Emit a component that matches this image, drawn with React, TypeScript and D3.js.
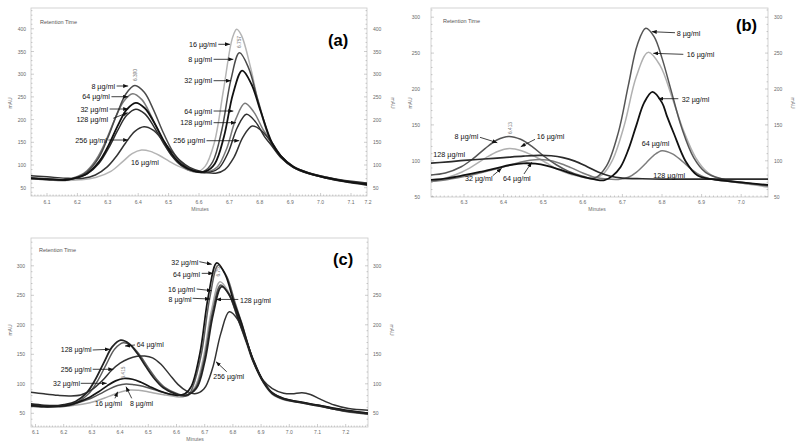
import React from "react";
import * as d3 from "d3";

type Pt = [number, number];

// ---------------- Panel (a) data: [minutes, mAU] ----------------
const a8: Pt[] = [[6.03,72],[6.10,69],[6.16,67.5],[6.19,70.5],[6.23,84],[6.27,116],[6.30,160],[6.33,212],[6.36,257],[6.389,275],[6.42,260],[6.45,222],[6.48,175],[6.51,134],[6.54,106],[6.58,89],[6.615,86],[6.645,107],[6.675,177],[6.705,288],[6.733,347],[6.763,314],[6.793,245],[6.84,146],[6.87,117],[6.91,95],[6.96,81],[7.02,71],[7.08,64],[7.16,58]];
const a16: Pt[] = [[6.03,70],[6.10,67.5],[6.16,66],[6.21,67.5],[6.26,72.5],[6.31,86],[6.35,108],[6.38,125],[6.411,133],[6.44,130],[6.47,121],[6.50,109],[6.53,98],[6.56,90],[6.59,84],[6.62,97],[6.65,148],[6.68,263],[6.71,380],[6.724,399],[6.74,385],[6.77,314],[6.80,225],[6.84,143],[6.87,116],[6.91,95],[6.96,82],[7.02,72],[7.08,65],[7.16,60]];
const a32: Pt[] = [[6.03,71],[6.10,68.5],[6.16,67],[6.192,71],[6.232,81.5],[6.272,108],[6.302,142.5],[6.332,185.5],[6.362,222],[6.392,237],[6.422,225],[6.452,194],[6.482,156],[6.512,123],[6.542,101],[6.582,87],[6.622,86],[6.652,103],[6.682,162],[6.712,257],[6.742,308],[6.772,279],[6.802,220],[6.84,149],[6.87,119],[6.91,96],[6.96,82],[7.02,72],[7.08,64],[7.16,57]];
const a64: Pt[] = [[6.03,70],[6.10,67.5],[6.16,66],[6.182,70.5],[6.222,82],[6.262,112.5],[6.292,151],[6.322,199],[6.352,240],[6.382,257],[6.412,244],[6.442,209],[6.472,166],[6.502,129],[6.532,104],[6.572,87],[6.631,85],[6.661,96],[6.691,136],[6.721,201],[6.751,236],[6.781,216],[6.811,178],[6.84,150],[6.87,120],[6.91,97],[6.96,83],[7.02,73],[7.08,65],[7.16,58]];
const a128: Pt[] = [[6.03,72],[6.10,69.5],[6.16,67.5],[6.192,70.5],[6.232,80.5],[6.272,104.5],[6.302,136.5],[6.332,175.5],[6.362,209.5],[6.392,223],[6.422,212.5],[6.452,184],[6.482,149.5],[6.512,119],[6.542,99],[6.582,86.5],[6.636,84],[6.666,93.5],[6.696,127.6],[6.726,182.6],[6.756,212],[6.786,195],[6.816,162],[6.84,142],[6.87,116],[6.91,95],[6.96,81],[7.02,71],[7.08,63],[7.16,55]];
const a256: Pt[] = [[6.03,77],[6.10,74],[6.16,71],[6.219,71],[6.259,78],[6.299,96.5],[6.329,120],[6.359,149],[6.389,174],[6.419,184],[6.449,176.6],[6.479,156],[6.509,131],[6.539,109],[6.569,94.7],[6.609,85.4],[6.655,82],[6.685,90],[6.715,117],[6.745,162],[6.775,186],[6.805,176],[6.84,148],[6.87,120],[6.91,97],[6.96,83],[7.02,73],[7.08,66],[7.16,60]];

// ---------------- Panel (b) data ----------------
const b8: Pt[] = [[6.21,80],[6.253,83],[6.293,91.7],[6.323,103],[6.353,117],[6.383,129],[6.413,134],[6.443,130],[6.473,119.5],[6.503,106],[6.533,94.5],[6.563,85.6],[6.60,78.5],[6.63,76],[6.66,93],[6.69,140],[6.715,205],[6.738,262],[6.759,284.5],[6.78,273],[6.80,243],[6.82,204],[6.85,145.5],[6.88,104.5],[6.91,84],[6.95,75],[7.00,70],[7.075,65]];
const b16: Pt[] = [[6.21,70],[6.255,76],[6.295,84.4],[6.325,93.5],[6.355,104],[6.385,113],[6.415,117],[6.445,114],[6.475,107],[6.505,98],[6.535,88.5],[6.565,82],[6.605,76.5],[6.625,74.5],[6.65,81],[6.675,101],[6.705,150],[6.735,217],[6.765,251],[6.795,233],[6.825,189],[6.855,141],[6.885,104.5],[6.915,84],[6.95,74],[7.00,69],[7.075,63]];
const b32: Pt[] = [[6.21,73],[6.26,76],[6.30,80],[6.34,84.5],[6.38,89.5],[6.42,94.5],[6.45,96.5],[6.48,96],[6.51,93],[6.54,88],[6.57,82.5],[6.60,77.5],[6.63,74],[6.655,73],[6.675,79],[6.695,91],[6.715,115.5],[6.735,149],[6.755,181],[6.776,196],[6.80,181],[6.812,163],[6.83,138],[6.86,99],[6.89,79.4],[6.93,74],[7.00,70],[7.075,66]];
const b64: Pt[] = [[6.21,71],[6.26,74],[6.30,78],[6.34,83],[6.38,88.5],[6.42,94.5],[6.45,99],[6.48,101.5],[6.51,101],[6.54,97],[6.57,90.5],[6.60,83],[6.63,77],[6.66,74.5],[6.69,74],[6.715,77],[6.735,84],[6.76,97],[6.78,108],[6.80,114],[6.825,110],[6.85,100],[6.875,88],[6.90,79],[6.93,74],[6.97,71],[7.02,68],[7.075,64.5]];
const b128: Pt[] = [[6.21,96.5],[6.26,98.5],[6.30,100.5],[6.35,102.5],[6.40,104.5],[6.45,106.5],[6.49,107.5],[6.52,107],[6.55,104.5],[6.58,99.5],[6.61,92],[6.64,84],[6.67,78.5],[6.70,76],[6.75,75],[6.80,74.5],[6.90,74.5],[7.00,74.5],[7.075,74.5]];

// ---------------- Panel (c) data ----------------
const c8: Pt[] = [[6.08,62],[6.13,60.5],[6.18,61],[6.22,63],[6.261,69.5],[6.301,76.4],[6.331,83.4],[6.361,91],[6.391,97],[6.421,99.7],[6.451,98.4],[6.481,96],[6.511,91.6],[6.541,87],[6.571,83],[6.611,80.5],[6.637,81],[6.667,92.5],[6.697,139],[6.727,220.5],[6.757,267.5],[6.787,250.5],[6.817,211],[6.85,168],[6.87,140],[6.91,101],[6.94,83],[6.98,74],[7.03,69.5],[7.10,63],[7.20,53],[7.29,48]];
const c16: Pt[] = [[6.08,62],[6.13,60.5],[6.18,61],[6.22,62.5],[6.275,66],[6.315,71],[6.345,76],[6.375,81.5],[6.405,86.5],[6.435,89.5],[6.465,89],[6.495,87],[6.525,84],[6.555,81.5],[6.59,79],[6.625,78],[6.664,93.5],[6.694,141],[6.724,224.5],[6.754,273],[6.784,256],[6.814,215.5],[6.85,166],[6.87,139],[6.91,100],[6.94,82],[6.98,73],[7.03,68.5],[7.10,62.5],[7.20,53.5],[7.29,49]];
const c32: Pt[] = [[6.08,63],[6.13,61.5],[6.18,62],[6.22,64],[6.254,69.4],[6.294,77.8],[6.324,86.5],[6.354,96.5],[6.384,105],[6.414,109],[6.444,107.7],[6.474,102.6],[6.504,95.6],[6.534,89],[6.564,84],[6.604,80.5],[6.63,83],[6.653,96],[6.683,151.5],[6.713,249],[6.743,305],[6.773,285],[6.803,239],[6.83,203],[6.87,142],[6.91,102],[6.94,84],[6.98,75],[7.03,70],[7.10,64],[7.20,55],[7.29,50]];
const c64: Pt[] = [[6.08,64],[6.13,62],[6.18,62.5],[6.211,64.4],[6.251,69.8],[6.291,84.3],[6.321,105.5],[6.351,133],[6.381,159],[6.411,169.7],[6.441,164],[6.471,148],[6.501,126.6],[6.531,107],[6.561,93],[6.601,83.5],[6.64,80],[6.658,95],[6.688,150],[6.718,245.5],[6.748,301],[6.778,282],[6.808,237],[6.83,205],[6.87,143],[6.91,103],[6.94,85],[6.98,75],[7.03,70],[7.10,64],[7.20,55],[7.29,50]];
const c128: Pt[] = [[6.08,66],[6.13,63.5],[6.18,63],[6.202,64.5],[6.242,70],[6.282,85],[6.312,107],[6.342,135.5],[6.372,162.6],[6.402,174],[6.432,168],[6.462,150.8],[6.492,128.7],[6.522,108.5],[6.552,93.7],[6.592,83.7],[6.63,80],[6.67,92],[6.70,137.5],[6.73,218],[6.76,264.6],[6.79,248.5],[6.82,210],[6.85,170],[6.87,141],[6.91,102],[6.94,84],[6.98,74],[7.03,69],[7.10,63],[7.20,54],[7.29,49]];
const c256: Pt[] = [[6.08,86],[6.13,83],[6.18,80.5],[6.22,79.5],[6.26,81],[6.30,90],[6.34,107],[6.37,123],[6.40,135],[6.43,142.5],[6.46,146.5],[6.487,147],[6.515,144],[6.545,133],[6.575,116],[6.605,99],[6.635,88],[6.665,83],[6.697,91],[6.727,125],[6.757,185],[6.787,222],[6.817,209],[6.847,173],[6.877,136],[6.907,106],[6.94,92],[6.98,84],[7.01,83],[7.045,85],[7.075,82],[7.11,74],[7.16,64],[7.21,58],[7.29,55]];

// ---------------- Axis ticks ----------------
const xTicksA = [6.1, 6.2, 6.3, 6.4, 6.5, 6.6, 6.7, 6.8, 6.9, 7.0, 7.1, 7.2];
const yTicksA = [50, 100, 150, 200, 250, 300, 350, 400];
const xTicksB = [6.3, 6.4, 6.5, 6.6, 6.7, 6.8, 6.9, 7.0];
const yTicksB = [50, 100, 150, 200, 250, 300];
const xTicksC = [6.1, 6.2, 6.3, 6.4, 6.5, 6.6, 6.7, 6.8, 6.9, 7.0, 7.1, 7.2];
const yTicksC = [50, 100, 150, 200, 250, 300];

// ---------------- Annotations (data units) ----------------
type Ann = { t: string; x: number; y: number; anchor: string; arrow?: number[] };
const annA: Ann[] = [
  { t: "8 µg/ml", x: 6.324, y: 274, anchor: "end", arrow: [6.329, 274, 6.367, 274] },
  { t: "64 µg/ml", x: 6.307, y: 250.4, anchor: "end", arrow: [6.312, 250.4, 6.367, 250.4] },
  { t: "32 µg/ml", x: 6.301, y: 223.3, anchor: "end", arrow: [6.306, 223.3, 6.367, 223.3] },
  { t: "128 µg/ml", x: 6.301, y: 200.7, anchor: "end", arrow: [6.318, 202.9, 6.3655, 215.2] },
  { t: "256 µg/ml", x: 6.297, y: 155, anchor: "end", arrow: [6.302, 155, 6.367, 155] },
  { t: "16 µg/ml", x: 6.422, y: 106, anchor: "middle" },
  { t: "16 µg/ml", x: 6.658, y: 365.9, anchor: "end", arrow: [6.6635, 365.9, 6.702, 365.9] },
  { t: "8 µg/ml", x: 6.643, y: 332.8, anchor: "end", arrow: [6.648, 332.8, 6.713, 332.8] },
  { t: "32 µg/ml", x: 6.643, y: 285.7, anchor: "end", arrow: [6.648, 285.7, 6.705, 285.7] },
  { t: "64 µg/ml", x: 6.643, y: 218.9, anchor: "end", arrow: [6.648, 218.9, 6.713, 218.9] },
  { t: "128 µg/ml", x: 6.643, y: 193.2, anchor: "end", arrow: [6.648, 193.2, 6.7217, 193.2] },
  { t: "256 µg/ml", x: 6.6197, y: 153.5, anchor: "end", arrow: [6.6247, 153.5, 6.7326, 153.5] },
];
const annB: Ann[] = [
  { t: "8 µg/ml", x: 6.3361, y: 133.6, anchor: "end", arrow: [6.3404, 132.7, 6.3841, 125.2] },
  { t: "16 µg/ml", x: 6.4836, y: 133.6, anchor: "start", arrow: [6.4793, 129.9, 6.4432, 119.6] },
  { t: "128 µg/ml", x: 6.2225, y: 108.1, anchor: "start" },
  { t: "32 µg/ml", x: 6.3025, y: 74.7, anchor: "start", arrow: [6.3725, 79.2, 6.3952, 89.6] },
  { t: "64 µg/ml", x: 6.3985, y: 74.7, anchor: "start", arrow: [6.4515, 81.6, 6.471, 97.9] },
  { t: "8 µg/ml", x: 6.8371, y: 277.6, anchor: "start", arrow: [6.8328, 278.4, 6.774, 279.8] },
  { t: "16 µg/ml", x: 6.8624, y: 247.4, anchor: "start", arrow: [6.8538, 248.3, 6.778, 249.7] },
  { t: "32 µg/ml", x: 6.8497, y: 185.7, anchor: "start", arrow: [6.8412, 186.5, 6.7907, 186.5] },
  { t: "64 µg/ml", x: 6.7487, y: 123.4, anchor: "start" },
  { t: "128 µg/ml", x: 6.778, y: 80.2, anchor: "start" },
];
const annC: Ann[] = [
  { t: "32 µg/ml", x: 6.6773, y: 305.3, anchor: "end", arrow: [6.6809, 307, 6.7248, 302.5] },
  { t: "64 µg/ml", x: 6.6833, y: 286.1, anchor: "end", arrow: [6.6894, 287.2, 6.7305, 287.2] },
  { t: "16 µg/ml", x: 6.6656, y: 260.2, anchor: "end", arrow: [6.6716, 260.7, 6.7248, 257.8] },
  { t: "8 µg/ml", x: 6.6539, y: 243.7, anchor: "end", arrow: [6.6574, 244.9, 6.7188, 243.7] },
  { t: "128 µg/ml", x: 6.8252, y: 242, anchor: "start", arrow: [6.8191, 243, 6.74, 243] },
  { t: "256 µg/ml", x: 6.7305, y: 113.2, anchor: "start", arrow: [6.778, 120.5, 6.74, 137.5] },
  { t: "128 µg/ml", x: 6.2993, y: 157.3, anchor: "end", arrow: [6.3028, 157.3, 6.3642, 158.5] },
  { t: "64 µg/ml", x: 6.4589, y: 165.8, anchor: "start", arrow: [6.4528, 165.8, 6.4174, 164] },
  { t: "256 µg/ml", x: 6.2993, y: 124.6, anchor: "end", arrow: [6.3028, 124.6, 6.3759, 124.6] },
  { t: "32 µg/ml", x: 6.2578, y: 100.8, anchor: "end", arrow: [6.2603, 100.8, 6.3525, 100.8] },
  { t: "16 µg/ml", x: 6.311, y: 67, anchor: "start", arrow: [6.3819, 75.4, 6.3915, 86.6] },
  { t: "8 µg/ml", x: 6.4351, y: 67, anchor: "start", arrow: [6.4411, 75.4, 6.4209, 95.1] },
];

// retention-time peak labels [text, minutes, mAU]
const rtA: [string, number, number][] = [["6.390", 6.3895, 298], ["6.757", 6.7316, 371]];
const rtB: [string, number, number][] = [["6.413", 6.4162, 145.7]];
const rtC: [string, number, number][] = [["6.415", 6.4138, 119.2], ["6.751", 6.7507, 292]];

const FONT = "'Liberation Sans', Arial, Helvetica, sans-serif";

type Series = { name: string; pts: Pt[]; color: string; w: number };
type PanelSpec = {
  id: string;
  frame: { x0: number; y0: number; x1: number; y1: number };
  xDom: [number, number]; xRange: [number, number];
  yDom: [number, number]; yRange: [number, number];
  xTicks: number[]; yTicks: number[];
  series: Series[]; ann: Ann[]; rt: [string, number, number][];
  title: string; titlePos: [number, number];
  leftLabelX: number; rightLabelX: number; xLabelY: number;
  minutesPos: [number, number]; mauL: [number, number]; mauR: [number, number];
  rtPos: [number, number];
  fontSize: number;
};

const panels: PanelSpec[] = [
  {
    id: "a",
    frame: { x0: 31, y0: 8, x1: 367, y1: 196 },
    xDom: [6.1, 7.1], xRange: [47, 351],
    yDom: [50, 400], yRange: [187.7, 28.8],
    xTicks: xTicksA, yTicks: yTicksA,
    series: [
      { name: "16", pts: a16, color: "#b4b4b4", w: 1.5 },
      { name: "64", pts: a64, color: "#7a7a7a", w: 1.5 },
      { name: "8", pts: a8, color: "#4a4a4a", w: 1.5 },
      { name: "128", pts: a128, color: "#2e2e2e", w: 1.5 },
      { name: "256", pts: a256, color: "#333333", w: 1.5 },
      { name: "32", pts: a32, color: "#111111", w: 1.8 },
    ],
    ann: annA, rt: rtA,
    title: "(a)", titlePos: [328, 40],
    leftLabelX: 26, rightLabelX: 373, xLabelY: 204,
    minutesPos: [200, 211], mauL: [10, 103], mauR: [393, 103], rtPos: [40, 22],
    fontSize: 7.2,
  },
  {
    id: "b",
    frame: { x0: 431, y0: 8, x1: 768, y1: 197 },
    xDom: [6.3, 7.0], xRange: [464, 741.2],
    yDom: [50, 300], yRange: [196.7, 17.2],
    xTicks: xTicksB, yTicks: yTicksB,
    series: [
      { name: "16", pts: b16, color: "#b0b0b0", w: 1.5 },
      { name: "64", pts: b64, color: "#7c7c7c", w: 1.5 },
      { name: "8", pts: b8, color: "#555555", w: 1.5 },
      { name: "128", pts: b128, color: "#2a2a2a", w: 1.7 },
      { name: "32", pts: b32, color: "#111111", w: 1.8 },
    ],
    ann: annB, rt: rtB,
    title: "(b)", titlePos: [736, 25],
    leftLabelX: 420, rightLabelX: 774, xLabelY: 204,
    minutesPos: [597, 211], mauL: [410, 103], mauR: [793, 103], rtPos: [443, 21],
    fontSize: 7.2,
  },
  {
    id: "c",
    frame: { x0: 31, y0: 238, x1: 368, y1: 427 },
    xDom: [6.1, 7.2], xRange: [35.5, 345.7],
    yDom: [50, 300], yRange: [413.3, 265.8],
    xTicks: xTicksC, yTicks: yTicksC,
    series: [
      { name: "16", pts: c16, color: "#ababab", w: 1.5 },
      { name: "8", pts: c8, color: "#555555", w: 1.5 },
      { name: "64", pts: c64, color: "#5e5e5e", w: 1.5 },
      { name: "256", pts: c256, color: "#333333", w: 1.5 },
      { name: "32", pts: c32, color: "#151515", w: 1.7 },
      { name: "128", pts: c128, color: "#222222", w: 1.8 },
    ],
    ann: annC, rt: rtC,
    title: "(c)", titlePos: [333, 259],
    leftLabelX: 25, rightLabelX: 373, xLabelY: 434,
    minutesPos: [195, 441], mauL: [10, 330], mauR: [392, 330], rtPos: [39, 250],
    fontSize: 7,
  },
];

function Panel({ p }: { p: PanelSpec }) {
  const xs = d3.scaleLinear().domain(p.xDom).range(p.xRange);
  const ys = d3.scaleLinear().domain(p.yDom).range(p.yRange);
  const f = p.frame;
  const line = d3
    .line<Pt>()
    .x((d) => xs(d[0]))
    .y((d) => ys(d[1]))
    .curve(d3.curveCatmullRom.alpha(0.5));
  const tMin = xs.invert(f.x0);
  const tMax = xs.invert(f.x1);
  const minorX = d3.range(Math.ceil(tMin * 100), Math.floor(tMax * 100) + 1).map((i) => i / 100);
  const vMin = ys.invert(f.y1);
  const vMax = ys.invert(f.y0);
  const minorY = d3.range(Math.ceil(vMin / 10), Math.floor(vMax / 10) + 1).map((i) => i * 10);
  const clipId = `clip-${p.id}`;
  const tickColor = "#9a9a9a";
  const labelColor = "#6a6a6a";
  return (
    <g>
      <defs>
        <clipPath id={clipId}>
          <rect x={f.x0} y={f.y0} width={f.x1 - f.x0} height={f.y1 - f.y0} />
        </clipPath>
      </defs>
      <rect x={f.x0} y={f.y0} width={f.x1 - f.x0} height={f.y1 - f.y0} fill="none" stroke="#c8c8c8" strokeWidth={0.8} />
      {/* bottom minor/major ticks */}
      {minorX.map((t, i) => {
        const major = Math.abs(t * 10 - Math.round(t * 10)) < 1e-6;
        const x = xs(t);
        return <line key={`mx${i}`} x1={x} x2={x} y1={f.y1} y2={f.y1 - (major ? 3 : 1.5)} stroke={tickColor} strokeWidth={0.5} />;
      })}
      {minorY.map((v, i) => {
        const major = v % 50 === 0;
        const y = ys(v);
        const len = major ? 3 : 1.5;
        return (
          <g key={`my${i}`}>
            <line x1={f.x0} x2={f.x0 + len} y1={y} y2={y} stroke={tickColor} strokeWidth={0.5} />
            <line x1={f.x1} x2={f.x1 - len} y1={y} y2={y} stroke={tickColor} strokeWidth={0.5} />
          </g>
        );
      })}
      {/* x tick labels */}
      {p.xTicks.map((t, i) => (
        <text key={`xt${i}`} x={Math.min(xs(t), f.x1 + 1)} y={p.xLabelY} fontSize={5} fill={labelColor} textAnchor="middle" fontFamily={FONT}>
          {t.toFixed(1)}
        </text>
      ))}
      {/* y tick labels both sides */}
      {p.yTicks.map((v, i) => (
        <g key={`yt${i}`}>
          <text x={p.leftLabelX} y={ys(v)} fontSize={5} fill={labelColor} textAnchor="end" dominantBaseline="central" fontFamily={FONT}>
            {v}
          </text>
          <text x={p.rightLabelX} y={ys(v)} fontSize={5} fill={labelColor} textAnchor="start" dominantBaseline="central" fontFamily={FONT}>
            {v}
          </text>
        </g>
      ))}
      <text x={p.minutesPos[0]} y={p.minutesPos[1]} fontSize={5} fill={labelColor} textAnchor="middle" fontFamily={FONT}>
        Minutes
      </text>
      <text transform={`translate(${p.mauL[0]},${p.mauL[1]}) rotate(-90)`} fontSize={5} fill={labelColor} textAnchor="middle" dominantBaseline="central" fontFamily={FONT}>
        mAU
      </text>
      <text transform={`translate(${p.mauR[0]},${p.mauR[1]}) rotate(90)`} fontSize={5} fill={labelColor} textAnchor="middle" dominantBaseline="central" fontFamily={FONT}>
        mAU
      </text>
      <text x={p.rtPos[0]} y={p.rtPos[1]} fontSize={5.5} fill="#555" dominantBaseline="central" fontFamily={FONT}>
        Retention Time
      </text>
      {/* traces */}
      <g clipPath={`url(#${clipId})`}>
        {p.series.map((s) => (
          <path key={s.name} d={line(s.pts) || ""} fill="none" stroke={s.color} strokeWidth={s.w} strokeLinejoin="round" />
        ))}
      </g>
      {/* retention time labels */}
      {p.rt.map(([txt, t, v], i) => (
        <text key={`rt${i}`} transform={`translate(${xs(t)},${ys(v)}) rotate(-90)`} fontSize={4.8} fill="#777" textAnchor="middle" dominantBaseline="central" fontFamily={FONT}>
          {txt}
        </text>
      ))}
      {/* annotations */}
      {p.ann.map((a, i) => (
        <g key={`an${i}`}>
          {a.arrow && (
            <line
              x1={xs(a.arrow[0])}
              y1={ys(a.arrow[1])}
              x2={xs(a.arrow[2])}
              y2={ys(a.arrow[3])}
              stroke="#111"
              strokeWidth={0.8}
              markerEnd="url(#arrowhead)"
            />
          )}
          <text x={xs(a.x)} y={ys(a.y)} fontSize={p.fontSize} fill="#111" textAnchor={a.anchor as any} dominantBaseline="central" fontFamily={FONT}>
            {a.t}
          </text>
        </g>
      ))}
      <text x={p.titlePos[0]} y={p.titlePos[1]} fontSize={16.5} fontWeight="bold" fill="#000" dominantBaseline="central" fontFamily={FONT}>
        {p.title}
      </text>
    </g>
  );
}

export default function App() {
  return (
    <div style={{ position: "fixed", left: 0, top: 0, width: 800, height: 447, background: "#fff" }}>
      <svg width={800} height={447} viewBox="0 0 800 447" xmlns="http://www.w3.org/2000/svg">
        <defs>
          <marker id="arrowhead" markerUnits="userSpaceOnUse" markerWidth={5} markerHeight={4} refX={5} refY={2} orient="auto">
            <path d="M0,0 L5,2 L0,4 z" fill="#111" />
          </marker>
        </defs>
        <rect x={0} y={0} width={800} height={447} fill="#fff" />
        {panels.map((p) => (
          <Panel key={p.id} p={p} />
        ))}
      </svg>
    </div>
  );
}
